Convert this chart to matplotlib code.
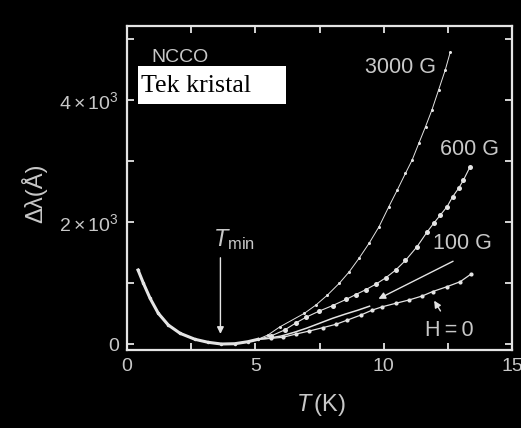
import matplotlib
matplotlib.use("Agg")
import matplotlib.pyplot as plt
from matplotlib.patches import Rectangle

plt.rcParams['font.family'] = ['Liberation Sans', 'DejaVu Sans']
plt.rcParams['mathtext.fontset'] = 'custom'
plt.rcParams['mathtext.rm'] = 'Liberation Sans'
plt.rcParams['mathtext.it'] = 'Liberation Sans:italic'

# common low temperature branch (all fields overlap)
T_low = [0.43, 0.64, 0.90, 1.22, 1.61, 2.07, 2.65, 3.16, 3.68, 4.20, 4.71, 5.10]
dl_low = [1213, 995, 749, 503, 311, 175, 77, 28, 0, 5, 38, 77]

# H = 0
T_h0 = [5.6, 6.07, 6.59, 7.10, 7.62, 8.14, 8.59, 9.11, 9.56, 9.95, 10.47, 10.98,
        11.5, 11.91, 12.47, 12.98, 13.41]
dl_h0 = [92, 110, 164, 213, 267, 323, 393, 475, 557, 611, 667, 721,
         787, 860, 940, 1021, 1148]

# 100 G
T_100 = [5.5, 6.0, 6.5, 7.0, 7.5, 8.0, 8.5, 9.0, 9.45]
dl_100 = [95, 130, 190, 260, 340, 420, 490, 555, 620]

# 600 G
T_600 = [5.6, 6.14, 6.6, 6.98, 7.49, 8.01, 8.53, 8.91, 9.3, 9.69, 10.08, 10.47,
         10.85, 11.3, 11.69, 11.95, 12.21, 12.47, 12.69, 12.92, 13.11, 13.37]
dl_600 = [130, 230, 350, 440, 540, 630, 730, 810, 890, 980, 1085, 1213,
          1370, 1595, 1835, 1979, 2115, 2251, 2415, 2552, 2689, 2907]

# 3000 G
T_3000 = [5.5, 5.95, 6.91, 7.36, 7.81, 8.27, 8.66, 9.04, 9.43, 9.82, 10.2, 10.53,
          10.85, 11.11, 11.37, 11.63, 11.88, 12.14, 12.4, 12.6]
dl_3000 = [150, 280, 503, 639, 803, 995, 1185, 1405, 1650, 1923, 2250, 2524,
           2798, 3016, 3290, 3562, 3836, 4164, 4492, 4792]

fg = '#e4e4e4'
txt = '#c8c8c8'

fig = plt.figure(figsize=(5.21, 4.28), dpi=100, facecolor='black')
ax = fig.add_axes([127 / 521, 78 / 428, 385 / 521, 324 / 428])
ax.set_facecolor('black')

n0 = len(T_low)
ax.plot(T_low + T_3000, dl_low + dl_3000, color=fg, lw=0.7, marker='o', ms=2.2, mew=0,
        markevery=list(range(n0, n0 + len(T_3000))))
ax.plot(T_low + T_600, dl_low + dl_600, color=fg, lw=0.8, marker='o', ms=3.6, mew=0,
        markevery=list(range(n0, n0 + len(T_600))))
ax.plot(T_low + T_100, dl_low + dl_100, color=fg, lw=1.1)
ax.plot(T_low + T_h0, dl_low + dl_h0, color=fg, lw=0.9, marker='o', ms=3, mew=0,
        markevery=list(range(n0, n0 + len(T_h0))))
ax.plot(T_low, dl_low, color=fg, lw=2.2, marker='o', ms=2.5, mew=0)

ax.set_xlim(0, 15)
ax.set_ylim(-98, 5212)
ax.set_xticks([0, 5, 10, 15])
ax.set_xticks([2.5, 7.5, 12.5], minor=True)
ax.set_yticks([0, 2000, 4000])
ax.set_yticklabels(['0', r'$2\times10^3$', r'$4\times10^3$'])
ax.set_yticks([1000, 3000, 5000], minor=True)
ax.tick_params(which='both', direction='in', top=True, right=True, length=5,
               width=1.3, color=fg, labelcolor=txt, labelsize=14, pad=6)
for s in ax.spines.values():
    s.set_color(fg)
    s.set_linewidth(1.6)

# field labels
ax.text(10.65, 4540, '3000 G', color=txt, fontsize=15.5, ha='center', va='center')
ax.text(13.34, 3180, '600 G', color=txt, fontsize=15.5, ha='center', va='center')
ax.text(13.05, 1650, '100 G', color=txt, fontsize=15.5, ha='center', va='center')
ax.text(12.56, 229, 'H\u2009=\u20090', color=txt, fontsize=15.5, ha='center', va='center')
ax.text(4.16, 1720, r'$T_{\rm min}$', color=txt, fontsize=17, ha='center', va='center')

arrow = dict(arrowstyle='-|>', color=fg, lw=1.0, mutation_scale=10)
ax.annotate('', xy=(3.64, 120), xytext=(3.64, 1459), arrowprops=arrow)
ax.annotate('', xy=(9.7, 720), xytext=(12.8, 1377), arrowprops=arrow)
ax.annotate('', xy=(11.91, 749), xytext=(12.27, 503), arrowprops=arrow)

ax.text(0.0623, 0.890, 'NCCO', transform=ax.transAxes, color=txt, fontsize=14,
        va='baseline')
ax.add_patch(Rectangle((0.0286, 0.7583), 0.385, 0.118, transform=ax.transAxes,
                       facecolor='white', edgecolor='none', zorder=5))
ax.text(0.037, 0.795, 'Tek kristal', transform=ax.transAxes, color='black',
        fontsize=18.7, family='Liberation Serif', va='baseline', zorder=6)

fig.text(34 / 521, 1 - 193 / 428, 'Δλ(Å)', color=txt, fontsize=17, rotation=90,
         ha='center', va='center')
fig.text(321 / 521, 1 - 405 / 428, r'$T\,$(K)', color=txt, fontsize=17,
         ha='center', va='center')

fig.savefig('out.png', dpi=100, facecolor='black')
